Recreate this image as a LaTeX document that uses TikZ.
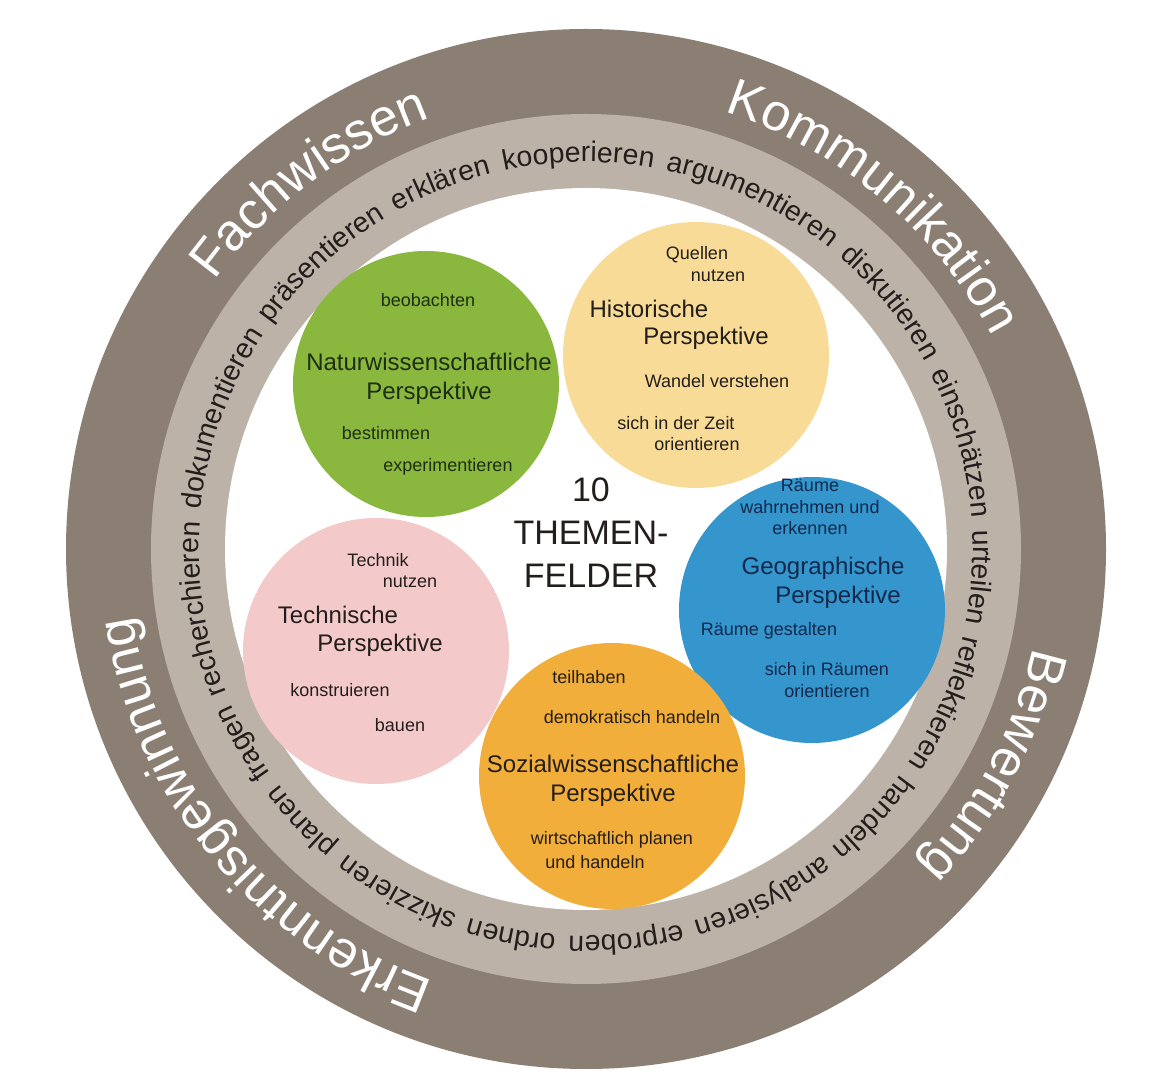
\documentclass[tikz,border=0pt]{standalone}
\usepackage{fontspec}
\setmainfont{Liberation Sans}
\usetikzlibrary{decorations.text}

\definecolor{ringdark}{RGB}{139,126,115}
\definecolor{ringlight}{RGB}{189,178,168}
\definecolor{natgreen}{RGB}{138,184,62}
\definecolor{histyellow}{RGB}{248,219,150}
\definecolor{geoblue}{RGB}{52,150,204}
\definecolor{techpink}{RGB}{243,202,201}
\definecolor{sozorange}{RGB}{242,174,58}
\definecolor{inkgreen}{RGB}{30,45,20}
\definecolor{inkblue}{RGB}{20,40,75}
\definecolor{ink}{RGB}{35,30,28}

\newcommand{\pvring}{\fontsize{14.2}{14.2}\selectfont}
\newcommand{\pvband}{\fontsize{26}{26}\selectfont}

\begin{document}
\begin{tikzpicture}[x=0.5pt, y=0.5pt,
    field/.style={circle, minimum size=133pt, inner sep=0pt},
    verbnode/.style={font=\fontsize{9}{10.75}\selectfont, text=ink, inner sep=1pt},
    titlenode/.style={font=\fontsize{12}{14.5}\selectfont, text=ink, inner sep=1pt}]
    \useasboundingbox (0,0) rectangle (1152,1088);
    \fill[white] (0,0) rectangle (1152,1088);
    \coordinate (C) at (586,539);

    % rings
    \fill[ringdark] (C) circle[radius=520];
    \fill[ringlight] (C) circle[radius=435];
    \fill[white] (C) circle[radius=361];

    \path[decorate, decoration={text along path, text color=ink,
        text align={fit to path stretching spaces},
        text={|\pvring|fragen recherchieren dokumentieren präsentieren erklären kooperieren argumentieren diskutieren einschätzen urteilen reflektieren handeln analysieren erproben ordnen skizzieren planen}}]
        ([shift={(215.5:387)}]C) arc[start angle=215.5, end angle=-142.5, radius=387];

    \path[decorate, decoration={text along path, text color=white, text align=center, text={|\pvband|Fachwissen}}]
        ([shift={(167:458)}]C) arc[start angle=167, end angle=87, radius=458];
    \path[decorate, decoration={text along path, text color=white, text align=center, text={|\pvband|Kommunikation}}]
        ([shift={(95:458)}]C) arc[start angle=95, end angle=5, radius=458];
    \path[decorate, decoration={text along path, text color=white, text align=center, text={|\pvband|Bewertung}}]
        ([shift={(12:458)}]C) arc[start angle=12, end angle=-68, radius=458];
    \path[decorate, decoration={text along path, text color=white, text align=center, text={|\pvband|Erkenntnisgewinnung}}]
        ([shift={(-95:458)}]C) arc[start angle=-95, end angle=-186, radius=458];

    % Perspektiven
    \node[field, fill=natgreen] (natur) at (426,704) {};
    \node[field, fill=histyellow] (hist) at (696,733) {};
    \node[field, fill=geoblue] (geo) at (812,478) {};
    \node[field, fill=sozorange] (sozial) at (612,312) {};
    \node[field, fill=techpink] (tech) at (376,437) {};

    \node[verbnode, text=inkgreen] (natur-1) at ([shift={(2,84)}]natur) {beobachten};
    \node[titlenode, text=inkgreen, align=center] (natur-t) at ([shift={(3,5)}]natur) {Naturwissenschaftliche\\Perspektive};
    \node[verbnode, text=inkgreen] (natur-2) at ([shift={(-40,-49)}]natur) {bestimmen};
    \node[verbnode, text=inkgreen] (natur-3) at ([shift={(22,-83)}]natur) {experimentieren};

    \node[verbnode] (hist-1) at ([shift={(1,100)}]hist) {Quellen};
    \node[verbnode] (hist-2) at ([shift={(22,79)}]hist) {nutzen};
    \node[titlenode] (hist-t1) at ([shift={(-47,46)}]hist) {Historische};
    \node[titlenode] (hist-t2) at ([shift={(10,17)}]hist) {Perspektive};
    \node[verbnode] (hist-3) at ([shift={(21,-26)}]hist) {Wandel verstehen};
    \node[verbnode] (hist-4) at ([shift={(-20,-68)}]hist) {sich in der Zeit};
    \node[verbnode] (hist-5) at ([shift={(1,-89)}]hist) {orientieren};

    \node[verbnode, text=inkblue, align=center] (geo-1) at ([shift={(-2,103)}]geo) {Räume\\wahrnehmen und\\erkennen};
    \node[titlenode, text=inkblue] (geo-t1) at ([shift={(11,42)}]geo) {Geographische};
    \node[titlenode, text=inkblue] (geo-t2) at ([shift={(26,13)}]geo) {Perspektive};
    \node[verbnode, text=inkblue] (geo-2) at ([shift={(-43,-21)}]geo) {Räume gestalten};
    \node[verbnode, text=inkblue, align=center] (geo-3) at ([shift={(15,-70)}]geo) {sich in Räumen\\orientieren};

    \node[verbnode] (tech-1) at ([shift={(2,91)}]tech) {Technik};
    \node[verbnode] (tech-2) at ([shift={(34,69)}]tech) {nutzen};
    \node[titlenode] (tech-t1) at ([shift={(-38,36)}]tech) {Technische};
    \node[titlenode] (tech-t2) at ([shift={(4,6)}]tech) {Perspektive};
    \node[verbnode] (tech-3) at ([shift={(-36,-39)}]tech) {konstruieren};
    \node[verbnode] (tech-4) at ([shift={(24,-74)}]tech) {bauen};

    \node[verbnode] (sozial-1) at ([shift={(-23,99)}]sozial) {teilhaben};
    \node[verbnode] (sozial-2) at ([shift={(20,59)}]sozial) {demokratisch handeln};
    \node[titlenode, align=center] (sozial-t) at ([shift={(1,-5)}]sozial) {Sozialwissenschaftliche\\Perspektive};
    \node[verbnode] (sozial-3) at ([shift={(0,-64)}]sozial) {wirtschaftlich planen};
    \node[verbnode] (sozial-4) at ([shift={(-17,-86)}]sozial) {und handeln};

    % Mitte
    \node[font=\fontsize{17}{21.5}\selectfont, align=center, text=ink] (themen) at ([shift={(5,16)}]C) {10\\THEMEN-\\FELDER};
\end{tikzpicture}
\end{document}
